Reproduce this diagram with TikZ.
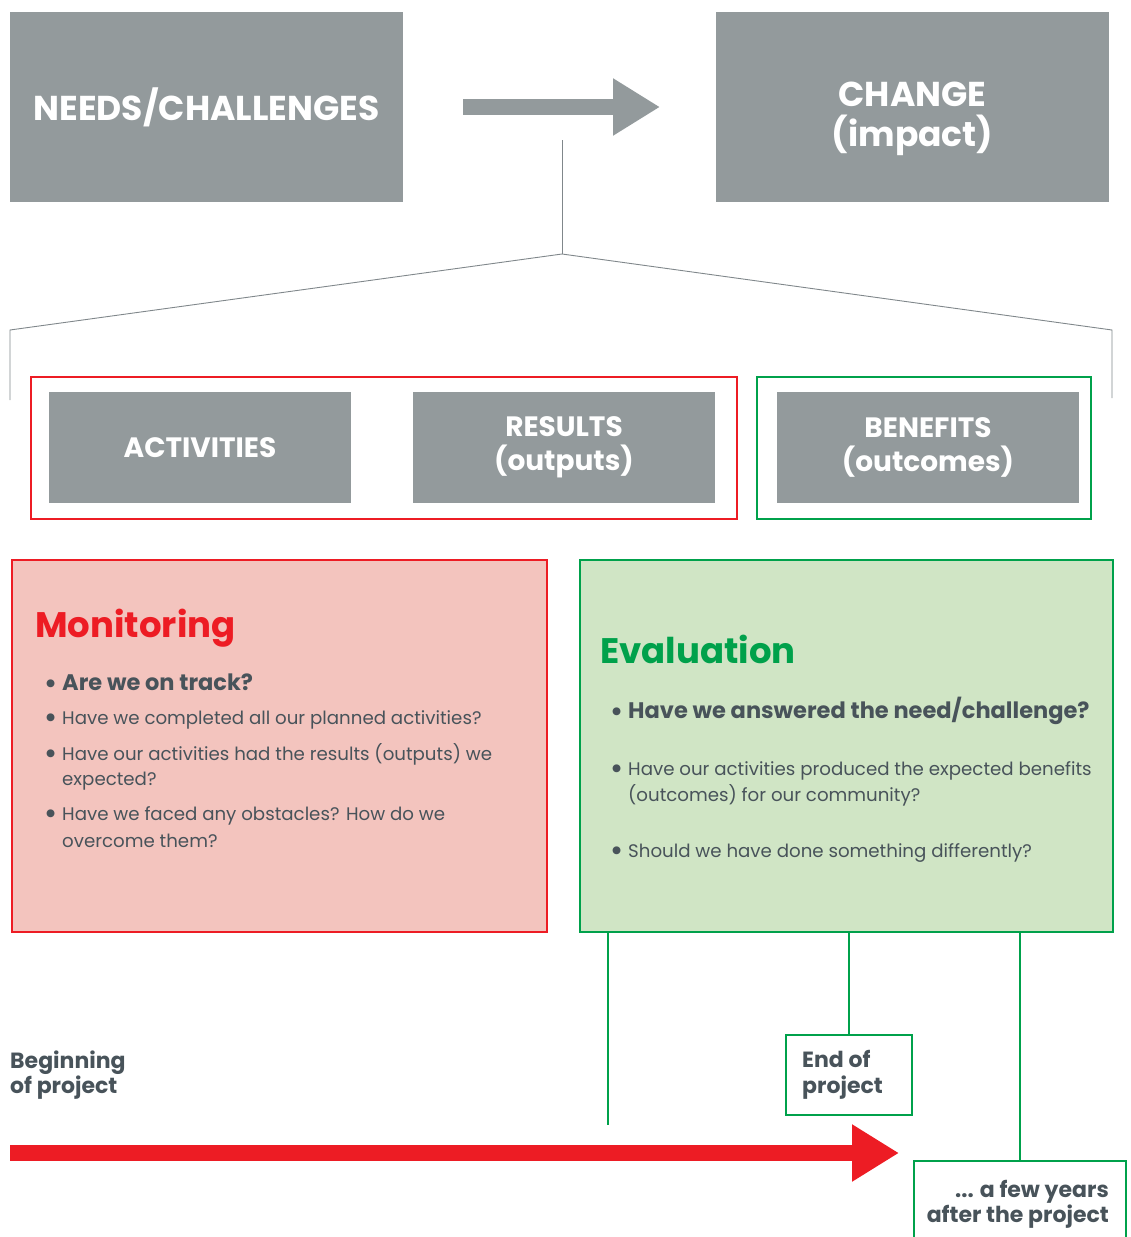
\documentclass[tikz,border=0pt]{standalone}
\usepackage{fontspec}
\setmainfont{Poppins}
\usetikzlibrary{arrows.meta,calc}
\definecolor{boxgray}{RGB}{147,154,156}
\definecolor{linegray}{RGB}{128,135,139}
\definecolor{mred}{RGB}{237,28,36}
\definecolor{mpink}{RGB}{243,196,190}
\definecolor{egreen}{RGB}{0,161,75}
\definecolor{egfill}{RGB}{208,229,197}
\definecolor{txt}{RGB}{72,83,90}
\newcommand{\blt}{\makebox[18pt][l]{{\fontsize{18}{18}\selectfont\raisebox{-2.8pt}{\scalebox{1.45}{\bfseries •}}}}}
\begin{document}
\begin{tikzpicture}[x=1pt,y=-1pt,
  graybox/.style={fill=boxgray, draw=none, text=white, align=center, inner sep=0,
    font=\fontsize{34.5}{40}\selectfont\bfseries},
  boxtext/.style={text=white, align=center, inner sep=0,
    font=\fontsize{34.5}{40}\selectfont\bfseries},
  rowbox/.style={fill=boxgray, draw=none, text=white, align=center, inner sep=0,
    minimum width=302, minimum height=111, font=\fontsize{28}{34}\selectfont\bfseries},
  redframe/.style={draw=mred, line width=1.5, inner sep=0},
  greenframe/.style={draw=egreen, line width=1.5, inner sep=0},
  title/.style={anchor=base west, inner sep=0, font=\fontsize{35.5}{40}\selectfont\bfseries},
  bodyline/.style={anchor=base west, inner sep=0, text=txt, font=\fontsize{18.2}{24}\selectfont},
  boldline/.style={anchor=base west, inner sep=0, text=txt, font=\fontsize{22.5}{24}\selectfont\bfseries},
  tlabel/.style={anchor=base west, inner sep=0, text=txt, font=\fontsize{22}{25}\selectfont\bfseries},
  fanline/.style={draw=linegray, line width=0.9},
  gline/.style={draw=egreen, line width=1.5},
  fatarrow/.style={line width=16, -{Triangle[length=47pt,width=54pt]}},
]
\useasboundingbox (0,0) rectangle (1131,1237);

% top boxes
\node[graybox, minimum width=393, minimum height=190] (needs) at (206.5,107) {NEEDS/CHALLENGES};
\node[graybox, minimum width=393, minimum height=190] (change) at (912.5,107) {};
\node[boxtext] (changetxt) at ($(change.center)+(0,12)$) {CHANGE\\(impact)};
\coordinate (ga1) at (463,107);
\coordinate (ga2) at (660,107);
\draw[fatarrow, boxgray] (ga1) -- (ga2);

% fan connector
\coordinate (fanTop) at (562,140);
\coordinate (fanMid) at (562,254);
\coordinate (fanL) at (10,330);
\coordinate (fanLb) at (10,400);
\coordinate (fanR) at (1112,330);
\coordinate (fanRb) at (1112,398);
\draw[fanline] (fanTop) -- (fanMid);
\draw[fanline] (fanLb) -- (fanL) -- (fanMid) -- (fanR) -- (fanRb);

% frames and row boxes
\node[redframe, minimum width=706, minimum height=142] (redfr) at (384,448) {};
\node[greenframe, minimum width=334, minimum height=142] (greenfr) at (924,448) {};
\node[rowbox] (act) at (200,447.5) {ACTIVITIES};
\node[rowbox] (res) at (564,447.5) {RESULTS\\(outputs)};
\node[rowbox] (ben) at (928,447.5) {BENEFITS\\(outcomes)};

% monitoring
\node[draw=mred, fill=mpink, line width=1.5, minimum width=535, minimum height=372, inner sep=0] (mon) at (279.5,746) {};
\node[title, text=mred] (montitle) at (35,637) {Monitoring};
\node[boldline] (m1) at (44,690) {\blt Are we on track?};
\node[bodyline] (m2) at (44,724) {\blt Have we completed all our planned activities?};
\node[bodyline] (m3) at (44,760) {\blt Have our activities had the results (outputs) we};
\node[bodyline] (m3b) at (62,785) {expected?};
\node[bodyline] (m4) at (44,820) {\blt Have we faced any obstacles? How do we};
\node[bodyline] (m4b) at (62,847) {overcome them?};

% evaluation
\node[draw=egreen, fill=egfill, line width=1.5, minimum width=533, minimum height=372, inner sep=0] (eval) at (846.5,746) {};
\node[title, text=egreen] (evtitle) at (600,663) {Evaluation};
\node[boldline] (e1) at (610,718) {\blt Have we answered the need/challenge?};
\node[bodyline] (e2) at (610,775) {\blt Have our activities produced the expected benefits};
\node[bodyline] (e2b) at (628,801) {(outcomes) for our community?};
\node[bodyline] (e3) at (610,857) {\blt Should we have done something differently?};

% timeline
\node[tlabel] (begin1) at (10,1068) {Beginning};
\node[tlabel] (begin2) at (10,1093) {of project};
\node[draw=egreen, line width=1.5, fill=white, minimum width=126, minimum height=80, inner sep=0] (endbox) at (849,1075) {};
\node[tlabel] (end1) at (802,1067) {End of};
\node[tlabel] (end2) at (802,1093) {project};
\begin{scope}
\clip (0,0) rectangle (1131,1237);
\node[draw=egreen, line width=1.5, fill=white, minimum width=212, minimum height=100, inner sep=0] (few) at (1020,1211) {};
\end{scope}
\node[tlabel, anchor=base east] (few1) at (1109,1197) {... a few years};
\node[tlabel, anchor=base east] (few2) at (1109,1222) {after the project};

\coordinate (t1) at (608,1125);
\draw[gline] (t1 |- eval.south) -- (t1);
\draw[gline] (endbox.north |- eval.south) -- (endbox.north);
\draw[gline] (few.north |- eval.south) -- (few.north);

\coordinate (ra1) at (10,1153);
\coordinate (ra2) at (899,1153);
\draw[fatarrow, mred] (ra1) -- (ra2);
\end{tikzpicture}
\end{document}
